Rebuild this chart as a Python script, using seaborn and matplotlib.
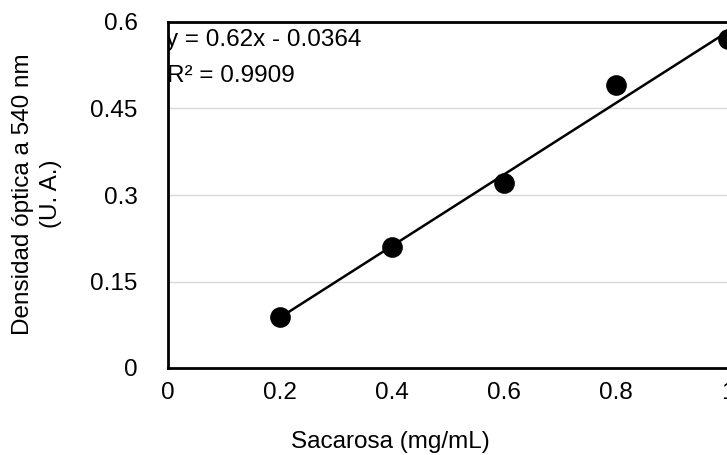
import numpy as np
import pandas as pd
import seaborn as sns
import matplotlib.pyplot as plt

# calibration data
sacarosa = [0.2, 0.4, 0.6, 0.8, 1.0]
densidad = [0.088, 0.21, 0.32, 0.49, 0.57]
slope = 0.62
intercept = -0.0364
r2 = 0.9909

df = pd.DataFrame({"x": sacarosa, "y": densidad})

sns.set_theme(style="white")
plt.rcParams['font.family'] = ['Liberation Sans', 'DejaVu Sans']
fs = 17.5

fig = plt.figure(figsize=(7.27, 4.55), dpi=100)
ax = fig.add_axes([168 / 727, (455 - 368) / 455, 560 / 727, 346 / 455])

# trend line
xl = np.array([sacarosa[0], sacarosa[-1]])
ax.plot(xl, slope * xl + intercept, color="black", lw=1.8, zorder=2)

sns.scatterplot(data=df, x="x", y="y", ax=ax, s=190, color="black",
                edgecolor="black", zorder=3, clip_on=False)

ax.set_xlim(0, 1)
ax.set_ylim(0, 0.6)
ax.set_xticks([0, 0.2, 0.4, 0.6, 0.8, 1])
ax.set_xticklabels(["0", "0.2", "0.4", "0.6", "0.8", "1"])
ax.set_yticks([0, 0.15, 0.3, 0.45, 0.6])
ax.set_yticklabels(["0", "0.15", "0.3", "0.45", "0.6"])
ax.tick_params(axis="both", labelsize=fs, length=0, colors="black")
ax.tick_params(axis="x", pad=10)
ax.tick_params(axis="y", pad=22)

ax.yaxis.grid(True, color="#d9d9d9", lw=1)
ax.set_axisbelow(True)
for sp in ax.spines.values():
    sp.set_color("black")
    sp.set_linewidth(2)
    sp.set_zorder(5)

ax.set_xlabel("")
ax.set_ylabel("")
fig.text(390 / 727, 1 - 442 / 455, "Sacarosa (mg/mL)", fontsize=fs,
         ha="center", va="center", color="black")
fig.text(37 / 727, 1 - 194 / 455, "Densidad óptica a 540 nm\n(U. A.)",
         fontsize=fs, rotation=90, ha="center", va="center",
         multialignment="center", linespacing=1.4, color="black")

ax.text(-0.003, 0.948, f"y = {slope}x - {abs(intercept)}", transform=ax.transAxes,
        fontsize=fs, va="center", ha="left", color="black", zorder=1, clip_on=True)
ax.text(-0.002, 0.844, f"R² = {r2}", transform=ax.transAxes,
        fontsize=fs, va="center", ha="left", color="black", zorder=1, clip_on=True)

fig.savefig("out.png", dpi=100)
